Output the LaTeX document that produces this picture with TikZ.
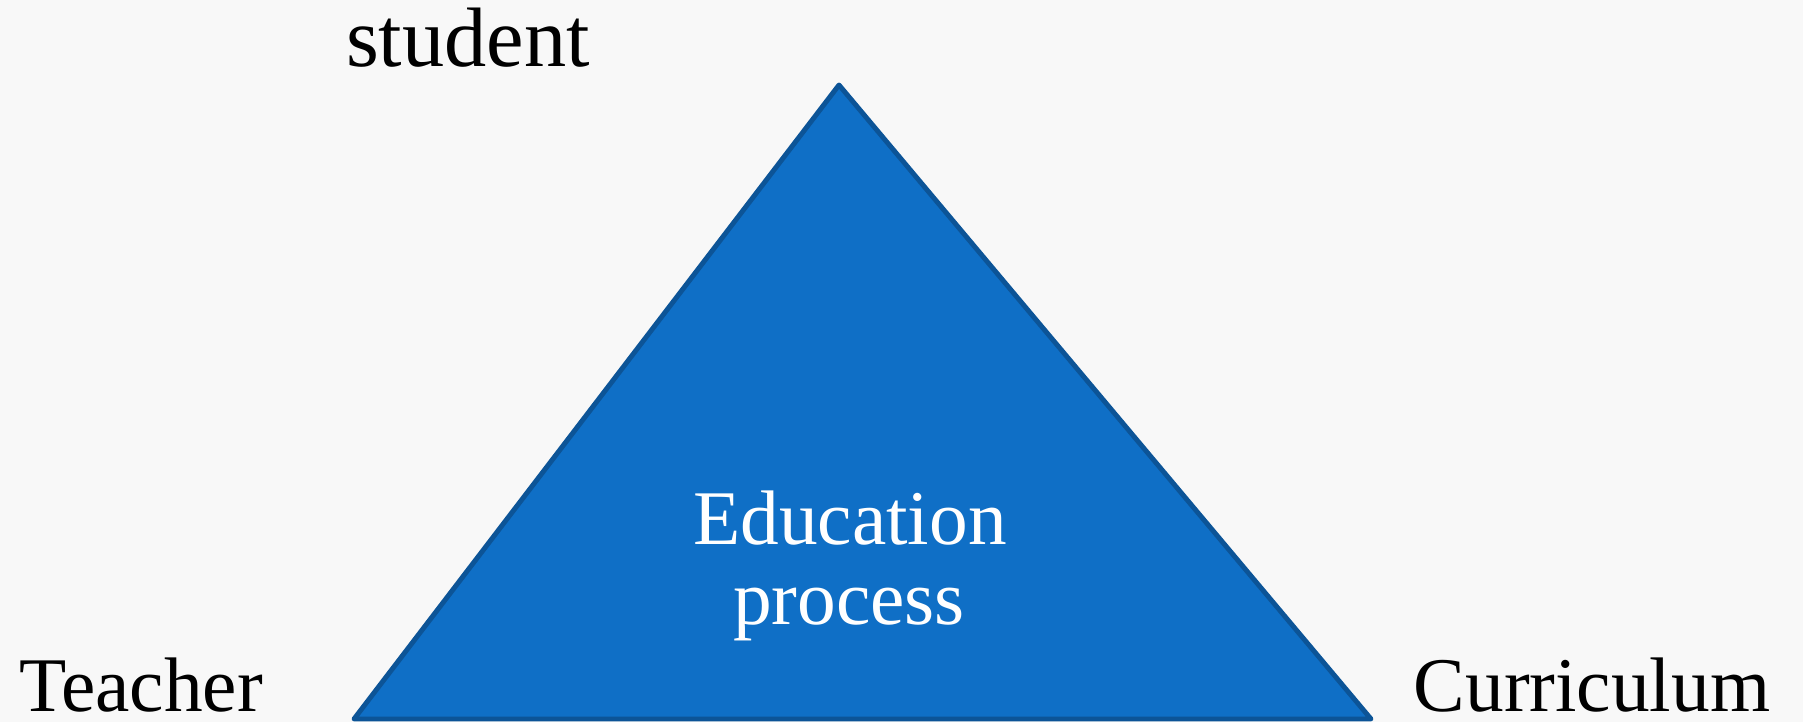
\documentclass[tikz,border=0pt]{standalone}
\usepackage{fontspec}
\setmainfont{Liberation Serif}
\usepackage{tikz}
\usetikzlibrary{positioning}

\definecolor{triblue}{HTML}{0F6FC6}
\definecolor{triedge}{HTML}{0C5497}
\definecolor{paper}{HTML}{F8F8F8}

\begin{document}
\begin{tikzpicture}[every node/.style={inner sep=0pt,font=\fontsize{22}{22.5}\selectfont}, corner/.style={text=black,anchor=base}]
	\fill[paper] (0,0) rectangle (18.03,7.22);
	\useasboundingbox (0,0) rectangle (18.03,7.22);
	\coordinate (top) at (8.39,6.37);
	\coordinate (left) at (3.54,0.03);
	\coordinate (right) at (13.71,0.03);
	\draw[triedge,fill=triblue,line width=1.4pt,line join=round] (top) -- (left) -- (right) -- cycle;
	\node[corner,font=\fontsize{24}{24}\selectfont] (student) at (4.68,6.55) {student};
	\node[corner] (teacher) at (1.41,0.10) {Teacher};
	\node[corner] (curriculum) at (15.92,0.10) {Curriculum};
	\node[text=white,anchor=base] (education) at (8.50,1.77) {Education};
	\node[text=white,anchor=base] (process) at (8.49,0.97) {process};
\end{tikzpicture}
\end{document}
